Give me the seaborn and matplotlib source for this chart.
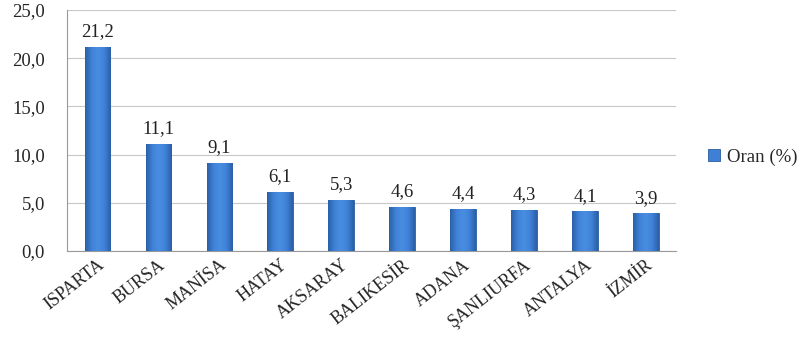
import numpy as np
import seaborn as sns
import matplotlib.pyplot as plt
import pandas as pd
from matplotlib.ticker import FuncFormatter, FixedLocator
from matplotlib.colors import LinearSegmentedColormap

cities = ["ISPARTA", "BURSA", "MANİSA", "HATAY", "AKSARAY", "BALIKESİR",
          "ADANA", "ŞANLIURFA", "ANTALYA", "İZMİR"]
oran = [21.2, 11.1, 9.1, 6.1, 5.3, 4.6, 4.4, 4.3, 4.1, 3.9]

df = pd.DataFrame({"il": cities, "oran": oran})

sns.set_style("white")
plt.rcParams['font.family'] = ['Liberation Serif', 'DejaVu Serif']

fig = plt.figure(figsize=(8.07, 3.41), dpi=100)
ax = fig.add_axes([0.083, 0.264, 0.755, 0.707])

sns.barplot(data=df, x="il", y="oran", color="#3f80d6", width=0.42,
            edgecolor="#2a5c9e", linewidth=0.6, saturation=1, ax=ax,
            label="Oran (%)", zorder=3)

# shaded look of the bars
shade = LinearSegmentedColormap.from_list(
    "shade", ["#2b5fa6", "#3f82d8", "#4a8ee2", "#3f82d8", "#2b5fa6"])
grad = np.linspace(0, 1, 64).reshape(1, -1)
for p in ax.patches:
    x0, w, h = p.get_x(), p.get_width(), p.get_height()
    im = ax.imshow(grad, cmap=shade, aspect="auto", extent=[x0, x0 + w, 0, h],
                   zorder=3.5, interpolation="bicubic")
    im.set_clip_path(p)

for p, v in zip(ax.patches, oran):
    ax.text(p.get_x() + p.get_width() / 2, v + 0.7, f"{v:.1f}".replace(".", ","),
            ha="center", va="bottom", fontsize=13.5, color="#222222")

ax.set_ylim(0, 25)
ax.set_xlim(-0.5, 9.5)
ax.set_yticks(np.arange(0, 26, 5))
ax.yaxis.set_major_formatter(FuncFormatter(lambda v, _: f"{v:.1f}".replace(".", ",")))
ax.grid(axis="y", color="#c8c8c8", linewidth=0.8, zorder=0)
ax.set_axisbelow(True)
ax.set_xlabel("")
ax.set_ylabel("")

ax.xaxis.set_minor_locator(FixedLocator(np.arange(-0.5, 10, 1)))
ax.tick_params(axis="x", which="major", length=0, labelsize=13, pad=4)
ax.tick_params(axis="x", which="minor", length=4, color="#999999", direction="out")
ax.tick_params(axis="y", length=4, color="#999999", labelsize=13.5, pad=12)
ax.set_xticks(range(len(cities)))
ax.set_xticklabels(cities, rotation=38, ha="right", rotation_mode="anchor")

for s in ["top", "right"]:
    ax.spines[s].set_visible(False)
for s in ["left", "bottom"]:
    ax.spines[s].set_color("#999999")
    ax.spines[s].set_linewidth(0.8)

leg = ax.legend(loc="center left", bbox_to_anchor=(1.025, 0.39), frameon=False,
                fontsize=13.5, handlelength=0.6, handleheight=0.6, handletextpad=0.4)

plt.savefig("out.png", dpi=100)
